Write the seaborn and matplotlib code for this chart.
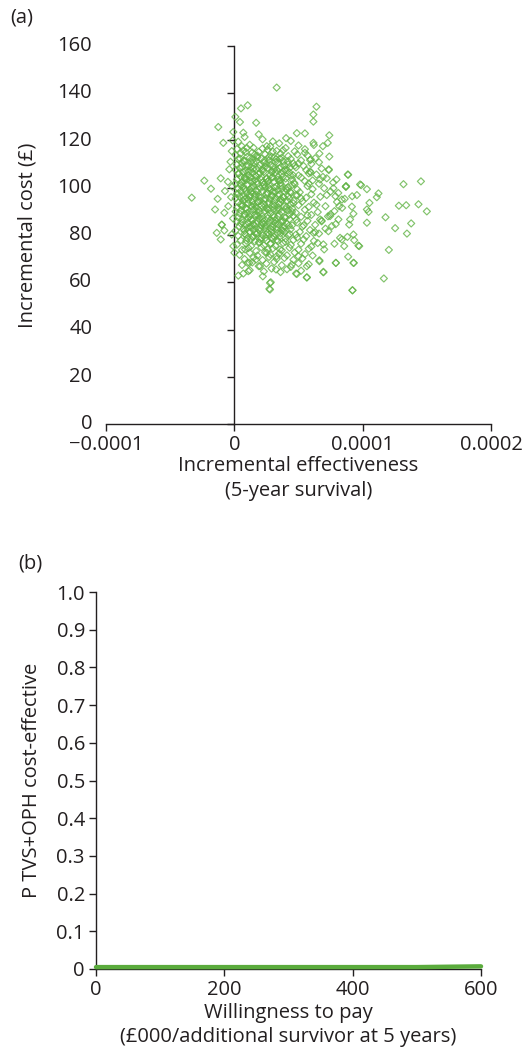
import numpy as np
import matplotlib
matplotlib.use("Agg")
import matplotlib.pyplot as plt
import seaborn as sns

# ---- (a) cost-effectiveness plane: incremental effect (millionths) vs incremental cost (GBP)
effect_micro = [
    # upper and left outliers
    33, 10.4, 5.2, 64, 61.6, 61.6, 0.8, 4.4, -12.5, 17, -0.8, 7, 19, 48.7, 55, 74,
    -8.6, 30, 40.3, 61.6, 72.8, 69, -23.4, -18.2, -33.2, -10.6, -3.9, 98, 88.4, 86.9,
    79.6, 73.6, 66.3, 59, 50, 35.6, 25.3, 9.7, 5.8, -2,
    # right-hand tail
    88.7, 86.9, 98.8, 103.3, 112.3, 111, 131.8, 145.4, 143.5, 150, 133.9, 128.2, 105.3,
    103.3, 104.6, 117.8, 137.8, 125.3, 134.5, 103.3, 92.8, 90.2, 89.5, 92.8, 93.4, 97.3,
    85.6, 88.1, 83.8, 120.4, 88.7, 93.1, 116.5, 92, 91.8, 95.5, 83.8, 91.6,
    59.6, 73.6, 59.6, 66.8, 77.2, 87.1, 78.8, 81.7, 74.6, 81.1, 66.8, 61.6, 73.3, 82.4,
    69.4, 78, 66.3, 79.1, 69.4, 56.5, 48.7, 32.5, 27.8, 27.8,
    # left of the axis
    -15, -13, -7.3, -7.8, -9.8, -13.7, -10.6, -7.8, -4.7, -2, -0.8, -1.5, -3, -1, -2.5,
    -5, -1.2, -9.8,
    # lower edge
    0, 3.1, 7, 10.9, 10.4, 22.2, 16.9, 20, 8.3, 28.4, 27.3, 48.1, 56.5, 69.4, 79.1,
    92.1, 92.8, 96.7, 66.3, 56.5, 44.8, 50, 33, 35.6, 25.3, 11.7,
    # main cloud, row by row
    3, 12, 22, 35, 44, 8, 28, 50,
    2, 7, 15, 19, 26, 33, 40, 47, 55,
    1, 5, 10, 14, 18, 24, 29, 36, 42, 49, 57,
    3, 8, 12, 17, 21, 27, 31, 38, 44, 52, 63,
    2, 6, 11, 15, 20, 25, 30, 34, 39, 46, 54, 60,
    1, 4, 9, 13, 17, 22, 26, 31, 35, 41, 48, 56, 68,
    3, 7, 11, 14, 19, 23, 28, 32, 37, 43, 50, 58, 64,
    2, 5, 9, 13, 16, 21, 25, 29, 34, 38, 45, 52, 61, 72,
    1, 6, 10, 14, 18, 22, 27, 31, 36, 40, 47, 55, 66,
    3, 7, 12, 15, 20, 24, 28, 33, 37, 42, 49, 57, 70,
    2, 5, 10, 13, 17, 22, 26, 30, 35, 39, 44, 51, 60, 75,
    1, 4, 8, 12, 16, 19, 24, 29, 32, 38, 43, 48, 56, 67,
    3, 7, 11, 14, 18, 23, 27, 31, 36, 41, 46, 53, 62, 80,
    2, 6, 9, 13, 17, 21, 25, 30, 34, 39, 45, 50, 58, 71,
    1, 5, 10, 15, 19, 24, 28, 33, 37, 42, 48, 55, 65, 78,
    3, 8, 12, 16, 20, 26, 31, 35, 40, 46, 52, 60, 73,
    2, 6, 11, 14, 18, 22, 27, 32, 36, 43, 49, 57, 68,
    4, 9, 13, 17, 21, 25, 30, 34, 39, 45, 53, 63, 76,
    1, 7, 12, 15, 20, 24, 29, 33, 38, 44, 51, 59,
    3, 8, 14, 18, 22, 27, 31, 36, 42, 48, 56, 66,
    5, 10, 16, 20, 25, 29, 34, 40, 46, 54, 62,
    2, 9, 13, 19, 23, 28, 32, 38, 44, 52, 60,
    6, 11, 17, 21, 26, 30, 37, 43, 50, 58,
    4, 12, 18, 24, 28, 35, 41, 47, 55,
    8, 15, 22, 27, 33, 39, 46, 53,
    6, 14, 19, 25, 31, 37, 44, 50, 58,
    12, 23, 29, 36, 41, 52,
    # dense centre
    6, 11, 15, 20, 24, 29, 33, 38, 43,
    8, 12, 17, 21, 26, 30, 35, 40, 44,
    5, 9, 14, 18, 23, 27, 32, 36, 41, 45,
    7, 11, 16, 20, 25, 28, 34, 37, 42,
    6, 10, 15, 19, 23, 27, 31, 35, 40, 44,
    8, 13, 18, 22, 26, 30, 34, 38, 43,
    5, 10, 15, 19, 23, 28, 32, 37, 41,
    9, 13, 17, 21, 26, 30, 35, 39,
    7, 13, 18, 23, 27, 32, 37, 42,
    9, 16, 22, 30, 38,
    4.5, 9.5, 14.2, 18.7, 23.4, 27.9, 32.6, 36.3, 41.7, 47.2,
    3.6, 8.2, 12.7, 16.4, 21.8, 25.3, 29.6, 34.1, 39.4, 45.8,
    4.8, 9.1, 13.3, 17.6, 22.2, 26.5, 31.2, 35.7, 40.3, 46.6,
    3.2, 7.7, 12.1, 16.8, 20.9, 25.6, 29.8, 33.9, 38.6, 43.5, 49.1,
    5.3, 9.6, 13.9, 18.2, 22.7, 26.9, 31.4, 35.9, 40.7, 46.2,
    4.1, 8.8, 12.4, 17.1, 21.6, 25.8, 30.3, 34.7, 39.2, 44.9,
    6.4, 10.7, 14.6, 19.3, 23.8, 28.1, 32.9, 37.4, 42.6, 48.3,
    7.9, 12.2, 16.1, 20.4, 24.9, 29.3, 33.6, 38.1, 43.2,
    9.4, 14.8, 19.6, 24.2, 28.6, 33.1, 39.8,
    # right flank of the cloud
    52, 57, 61, 64, 69, 72, 75, 63, 68, 77, 81, 84, 59, 66, 74, 71, 79, 86, 55, 62,
    58, 54, 49, 65, 61, 70,
]

inc_cost = [
    142.4, 134.9, 133.6, 134.3, 131, 128, 130, 127.8, 125.7, 127.5, 123.6, 123.3, 122.6,
    123.1, 123, 122.2, 119, 119.6, 121, 119, 119, 117.6, 103, 99.6, 95.8, 104, 107.8,
    101.4, 105.6, 100.4, 103.5, 107.8, 114.5, 111.7, 110.3, 112.3, 117.6, 116.9, 117.6,
    115.5,
    105.5, 100.5, 101.1, 99.4, 97.6, 96, 101.5, 102.7, 93, 90, 92.6, 92.4, 93.6, 90.8,
    89.8, 87.5, 84.9, 82.9, 80.6, 85.2, 89, 86.6, 84.4, 80.2, 77.8, 75.3, 75.3, 79.2,
    78.1, 73.7, 70.8, 68.2, 61.6, 56.6, 96.4, 96.9, 95, 92,
    112, 107.5, 106.4, 103.5, 99.8, 100.7, 96.4, 92.2, 88, 86.6, 86.6, 80.9, 81.6, 78.8,
    76, 76.3, 69.3, 68.2, 64.4, 62.1, 63.5, 65.4, 59.7, 56.9,
    90.8, 95.3, 98.6, 89.4, 84.3, 80.9, 78.1, 81.9, 92.2, 80.2, 75.3, 100.5, 111, 87, 96,
    102.5, 120, 84.4,
    72.5, 62.8, 63.7, 64.7, 68.2, 62.5, 69.6, 66.8, 73.9, 60, 57.2, 63.7, 62, 64.2, 68.2,
    56.6, 68.2, 75.5, 68.9, 66.8, 67.5, 71, 71, 73.9, 72.5, 68.2,
    119.5, 118.2, 120.5, 118.8, 119.8, 121.5, 117.5, 117.9,
    116.4, 115.8, 116.9, 115.2, 116.1, 115.6, 116.8, 115.4, 116.3,
    113.8, 114.6, 113.2, 114.9, 113.6, 114.2, 113.1, 114.5, 113.4, 114.1, 113.7,
    112.1, 111.4, 112.6, 111.2, 112.4, 111.7, 112.8, 111.3, 112.2, 111.6, 112.5,
    109.8, 110.5, 109.3, 110.7, 109.6, 110.2, 109.1, 110.6, 109.5, 110.3, 109.2, 110.1,
    107.6, 108.4, 107.2, 108.7, 107.9, 107.3, 108.5, 107.8, 108.2, 107.4, 108.6, 107.5, 108.1,
    105.9, 106.6, 105.3, 106.2, 105.7, 106.8, 105.4, 106.3, 105.8, 106.5, 105.2, 106.1, 105.6,
    103.5, 104.7, 103.9, 104.3, 103.2, 104.6, 103.7, 104.2, 103.4, 104.8, 103.6, 104.4, 103.1, 104.0,
    101.8, 102.4, 101.3, 102.7, 101.6, 102.2, 101.1, 102.6, 101.9, 102.3, 101.5, 102.8, 101.7,
    99.7, 100.5, 99.2, 100.8, 99.9, 100.3, 99.4, 100.6, 99.6, 100.2, 99.3, 100.7, 99.8,
    97.4, 98.6, 97.8, 98.2, 97.1, 98.7, 97.6, 98.3, 97.2, 98.5, 97.9, 98.1, 97.3, 98.4,
    95.6, 96.3, 95.2, 96.8, 95.9, 96.4, 95.3, 96.6, 95.7, 96.1, 95.4, 96.9, 95.8, 96.2,
    93.8, 94.5, 93.3, 94.1, 93.6, 94.8, 93.2, 94.3, 93.9, 94.6, 93.4, 94.2, 93.7, 94.0,
    91.5, 92.7, 91.2, 92.3, 91.8, 92.5, 91.4, 92.9, 91.6, 92.1, 91.3, 92.6, 91.9, 92.2,
    89.9, 90.4, 89.3, 90.8, 89.6, 90.2, 89.1, 90.6, 89.8, 90.3, 89.4, 90.7, 89.7, 90.1,
    87.4, 88.2, 87.8, 88.6, 87.2, 88.4, 87.6, 88.9, 87.3, 88.1, 87.7, 88.5, 87.9,
    85.7, 86.5, 85.2, 86.1, 85.9, 86.8, 85.4, 86.3, 85.6, 86.7, 85.3, 86.0, 85.8,
    83.6, 84.4, 83.1, 84.8, 83.9, 84.2, 83.3, 84.6, 83.7, 84.1, 83.5, 84.3, 83.8,
    81.9, 82.6, 81.4, 82.2, 81.7, 82.9, 81.2, 82.4, 81.8, 82.5, 81.3, 82.1,
    79.6, 80.5, 79.2, 80.8, 79.9, 80.3, 79.4, 80.7, 79.8, 80.2, 79.5, 80.6,
    77.8, 78.6, 77.3, 78.2, 77.7, 78.9, 77.4, 78.4, 77.9, 78.1, 77.5,
    75.9, 76.4, 75.3, 76.8, 75.6, 76.2, 75.4, 76.6, 75.8, 76.3, 75.1,
    73.7, 74.5, 73.2, 74.8, 73.9, 74.3, 73.5, 74.6, 73.8, 74.2,
    71.6, 72.4, 71.3, 72.7, 71.8, 72.2, 71.4, 72.6, 71.9,
    69.8, 70.5, 69.4, 70.7, 69.9, 70.3, 69.5, 70.1,
    67.3, 68.4, 66.8, 67.9, 68.6, 67.2, 66.5, 68.0, 67.6,
    65.1, 64.6, 65.8, 64.3, 65.5, 64.9,
    108.8, 106.9, 108.1, 106.3, 108.9, 106.7, 107.5, 106.9, 108.3,
    104.1, 102.9, 104.9, 103.4, 102.6, 104.5, 102.9, 103.9, 105.1,
    100.9, 98.9, 100.1, 98.4, 101.4, 99.9, 98.1, 100.9, 98.9, 101.1,
    96.1, 94.9, 96.9, 94.4, 97.1, 95.1, 96.8, 94.7, 96.4,
    92.1, 90.9, 92.9, 90.5, 93.1, 90.7, 91.1, 93.3, 90.9, 92.9,
    88.9, 86.6, 88.4, 85.1, 87.1, 85.9, 87.9, 86.1, 88.7,
    84.9, 82.9, 84.1, 82.4, 84.7, 82.6, 84.9, 82.1, 84.8,
    80.1, 78.1, 80.5, 78.6, 81.1, 78.3, 79.2, 81.3,
    111.4, 110.9, 112.9, 110.7, 113.1, 110.9, 112.7, 109.9,
    115.1, 114.1, 116.6, 115.3, 115.9,
    112.3, 109.1, 111.8, 108.4, 111.5, 109.7, 112.1, 108.8, 111.2, 109.4,
    106.1, 104.6, 107.3, 105.2, 107.9, 104.1, 106.9, 104.7, 107.6, 105.3,
    101.6, 103.2, 99.8, 102.5, 100.4, 102.9, 100.1, 103.3, 99.7, 102.1,
    97.6, 99.3, 96.2, 98.8, 95.8, 98.1, 96.6, 99.2, 95.9, 98.3, 96.8,
    93.2, 95.7, 92.1, 94.3, 91.6, 93.9, 92.4, 95.2, 91.9, 94.6,
    89.1, 91.4, 88.6, 90.1, 87.8, 90.9, 88.3, 90.6, 87.4, 89.8,
    85.3, 87.2, 84.6, 86.9, 83.8, 86.2, 83.4, 85.7, 83.9, 86.4,
    81.7, 83.5, 80.9, 82.8, 80.2, 82.2, 80.6, 82.9, 80.4,
    77.6, 79.3, 76.9, 78.8, 76.4, 77.9, 77.1,
    95.5, 88.3, 99.4, 92.8, 104.6, 96.9, 88.8, 81.2, 86.1, 102.2, 97.8, 91.5, 106.9,
    110.8, 113.2, 82.7, 84.6, 95.3, 114.8, 118.1, 101.8, 84.1, 78.9, 76.6, 71.3, 73.9,
]

cost_ticks = [0, 20, 40, 60, 80, 100, 120, 140, 160]
effect_ticks = [-0.0001, 0, 0.0001, 0.0002]
effect_tick_labels = ["\u22120.0001", "0", "0.0001", "0.0002"]

# ---- (b) cost-effectiveness acceptability curve
wtp = [0, 100, 200, 300, 400, 500, 600]
prob_cost_effective = [0.005, 0.005, 0.005, 0.005, 0.005, 0.005, 0.007]
prob_ticks = [0, 0.1, 0.2, 0.3, 0.4, 0.5, 0.6, 0.7, 0.8, 0.9, 1.0]
prob_tick_labels = ["0", "0.1", "0.2", "0.3", "0.4", "0.5", "0.6", "0.7", "0.8", "0.9", "1.0"]
wtp_ticks = [0, 200, 400, 600]

sns.set_style("white")
plt.rcParams["font.family"] = ["Open Sans", "DejaVu Sans"]
FS = 14.5
INK = "#231f20"
GREEN = "#62b446"

fig = plt.figure(figsize=(5.28, 10.63), dpi=100)
ax_a = fig.add_axes([106 / 528, 1 - 424 / 1063, 385 / 528, 378 / 1063])
ax_b = fig.add_axes([96 / 528, 1 - 969 / 1063, 385 / 528, 377 / 1063])

x_eff = np.array(effect_micro) * 1e-6
y_cost = np.array(inc_cost)
sns.scatterplot(x=x_eff, y=y_cost, marker="D", s=13, facecolor="none",
                edgecolor=GREEN, linewidth=0.85, alpha=0.8, ax=ax_a, zorder=3)

ax_a.set_xlim(-0.0001, 0.0002)
ax_a.set_ylim(0, 160)
ax_a.spines["left"].set_position(("data", 0))
for s in ("top", "right"):
    ax_a.spines[s].set_visible(False)
for s in ("left", "bottom"):
    ax_a.spines[s].set_color(INK)
    ax_a.spines[s].set_linewidth(1.0)
ax_a.set_xticks(effect_ticks)
ax_a.set_xticklabels(effect_tick_labels)
ax_a.set_yticks(cost_ticks)
ax_a.tick_params(axis="both", direction="out", length=5, width=1.0, color=INK,
                 labelsize=FS, labelcolor=INK, pad=3)
ax_a.tick_params(axis="y", labelleft=False, left=True)
ax_a.tick_params(axis="x", bottom=True)
ytr = ax_a.get_yaxis_transform()
for t in cost_ticks:
    ax_a.text(-0.036, t, str(t), transform=ytr, ha="right", va="center",
              fontsize=FS, color=INK)
ax_a.set_ylabel("Incremental cost (\u00a3)", fontsize=FS, color=INK)
ax_a.yaxis.set_label_coords(-0.203, 0.5)
ax_a.yaxis.label.set_va("center")
ax_a.set_xlabel("Incremental effectiveness\n(5-year survival)", fontsize=FS,
                color=INK, linespacing=1.3)
ax_a.xaxis.set_label_coords(0.5, -0.085)
ax_a.xaxis.label.set_va("top")

sns.lineplot(x=wtp, y=prob_cost_effective, color="#5aab3c", linewidth=3.2,
             ax=ax_b, clip_on=False, zorder=3)
ax_b.set_xlim(0, 600)
ax_b.set_ylim(0, 1.0)
for s in ("top", "right"):
    ax_b.spines[s].set_visible(False)
for s in ("left", "bottom"):
    ax_b.spines[s].set_color(INK)
    ax_b.spines[s].set_linewidth(1.0)
ax_b.set_xticks(wtp_ticks)
ax_b.set_yticks(prob_ticks)
ax_b.set_yticklabels(prob_tick_labels)
ax_b.tick_params(axis="both", direction="out", length=5, width=1.0, color=INK,
                 labelsize=FS, labelcolor=INK, pad=3, left=True, bottom=True)
ax_b.set_ylabel("P TVS+OPH cost-effective", fontsize=FS, color=INK)
ax_b.yaxis.set_label_coords(-0.166, 0.5)
ax_b.yaxis.label.set_va("center")
ax_b.set_xlabel("Willingness to pay\n(\u00a3000/additional survivor at 5 years)",
                fontsize=FS, color=INK, linespacing=1.3)
ax_b.xaxis.set_label_coords(0.5, -0.09)
ax_b.xaxis.label.set_va("top")

fig.text(10 / 528, 1 - 18 / 1063, "(a)", fontsize=FS, color=INK, ha="left", va="center")
fig.text(18 / 528, 1 - 563 / 1063, "(b)", fontsize=FS, color=INK, ha="left", va="center")

fig.savefig("out.png", dpi=100)
